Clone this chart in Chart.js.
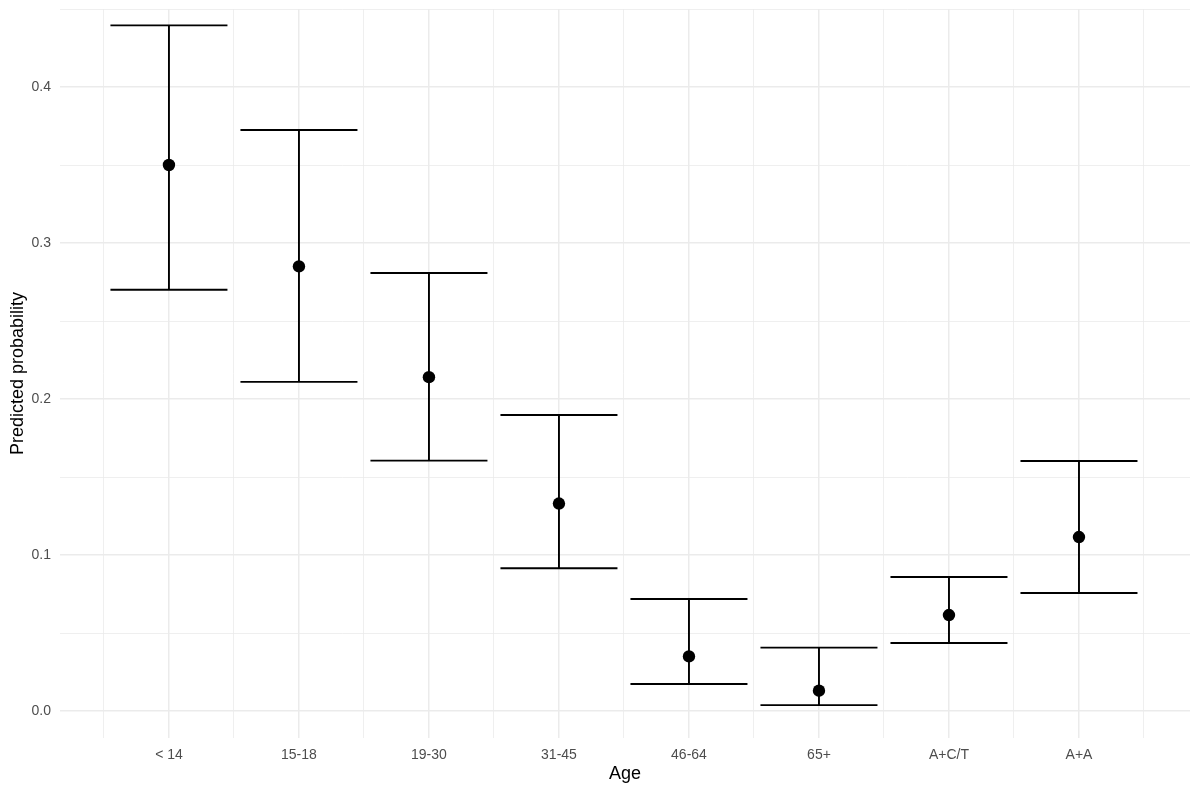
<!DOCTYPE html>
<html>
<head>
<meta charset="utf-8">
<script src="https://cdn.jsdelivr.net/npm/chart.js@4"></script>
<style>
  html, body { margin: 0; padding: 0; background: #ffffff; }
  #wrap { width: 1200px; height: 793px; }
</style>
</head>
<body>
<div id="wrap"><canvas id="c" width="1200" height="793"></canvas></div>
<script>
// ---- Data ----
const categories = ['< 14', '15-18', '19-30', '31-45', '46-64', '65+', 'A+C/T', 'A+A'];
const estimate   = [0.350, 0.285, 0.214, 0.133, 0.035, 0.013, 0.0615, 0.1115];
const lower      = [0.270, 0.211, 0.1605, 0.0915, 0.0173, 0.0038, 0.0436, 0.0756];
const upper      = [0.4395, 0.3724, 0.2808, 0.1897, 0.0718, 0.0406, 0.0859, 0.1603];
const yTickValues = [0, 0.05, 0.1, 0.15, 0.2, 0.25, 0.3, 0.35, 0.4, 0.45];
const yTickLabels = ['0.0', '', '0.1', '', '0.2', '', '0.3', '', '0.4', ''];
const xTitle = 'Age';
const yTitle = 'Predicted probability';

// ---- Build datasets from the arrays ----
const capHalf = 0.45;
const pts = categories.map((c, i) => ({ x: i + 1, y: estimate[i] }));
const stems = [], capsUp = [], capsLo = [];
categories.forEach((c, i) => {
  const x = i + 1;
  stems.push({ x: x, y: lower[i] }, { x: x, y: upper[i] }, { x: x, y: null });
  capsUp.push({ x: x - capHalf, y: upper[i] }, { x: x + capHalf, y: upper[i] }, { x: x, y: null });
  capsLo.push({ x: x - capHalf, y: lower[i] }, { x: x + capHalf, y: lower[i] }, { x: x, y: null });
});
const xTickValues = [];
for (let k = 0; k <= categories.length; k++) {
  xTickValues.push(k + 0.5);
  if (k < categories.length) xTickValues.push(k + 1);
}
xTickValues.sort((a, b) => a - b);

const lineDs = (data) => ({
  type: 'scatter', data: data, showLine: true, spanGaps: false,
  borderColor: '#000000', borderWidth: 1.9, pointRadius: 0, pointHoverRadius: 0,
  backgroundColor: '#000000', clip: false
});

const tickFont = { family: '"Liberation Sans", Arial, sans-serif', size: 14 };
const titleFont = { family: '"Liberation Sans", Arial, sans-serif', size: 18 };

new Chart(document.getElementById('c'), {
  type: 'scatter',
  data: {
    datasets: [
      { data: pts, pointRadius: 6.2, pointHoverRadius: 6.2, backgroundColor: '#000000', borderColor: '#000000', borderWidth: 0, clip: false },
      lineDs(stems),
      lineDs(capsUp),
      lineDs(capsLo)
    ]
  },
  options: {
    responsive: false,
    animation: false,
    devicePixelRatio: 1,
    layout: { padding: { top: 9, right: 10, left: 0, bottom: 0 } },
    plugins: { legend: { display: false }, tooltip: { enabled: false } },
    scales: {
      x: {
        type: 'linear',
        min: 0.162, max: 8.854,
        afterBuildTicks: (s) => { s.ticks = xTickValues.map(v => ({ value: v })); },
        afterFit: (s) => { s.height = 55; s.paddingLeft = 0; s.paddingRight = 0; },
        border: { display: false },
        grid: {
          color: '#EBEBEB',
          lineWidth: (ctx) => (ctx.tick && Number.isInteger(ctx.tick.value)) ? 1.5 : 0.8,
          drawTicks: false
        },
        ticks: {
          autoSkip: false, maxRotation: 0, padding: 9,
          color: '#4D4D4D', font: tickFont,
          callback: (v) => Number.isInteger(v) ? categories[v - 1] : ''
        },
        title: { display: true, text: xTitle, color: '#000000', font: titleFont, padding: { top: 0, bottom: 8 } }
      },
      y: {
        type: 'linear',
        min: -0.0173, max: 0.45,
        afterBuildTicks: (s) => { s.ticks = yTickValues.map(v => ({ value: v })); },
        afterFit: (s) => { s.width = 60; s.paddingTop = 0; s.paddingBottom = 0; },
        border: { display: false },
        grid: {
          color: '#EBEBEB',
          lineWidth: (ctx) => (ctx.tick && yTickLabels[yTickValues.indexOf(ctx.tick.value)] !== '') ? 1.5 : 0.8,
          drawTicks: false
        },
        ticks: {
          autoSkip: false, padding: 9,
          color: '#4D4D4D', font: tickFont,
          callback: (v) => { const k = yTickValues.indexOf(v); return k >= 0 ? yTickLabels[k] : ''; }
        },
        title: { display: true, text: yTitle, color: '#000000', font: titleFont, padding: { top: 7, bottom: 0 } }
      }
    }
  }
});
</script>
</body>
</html>
